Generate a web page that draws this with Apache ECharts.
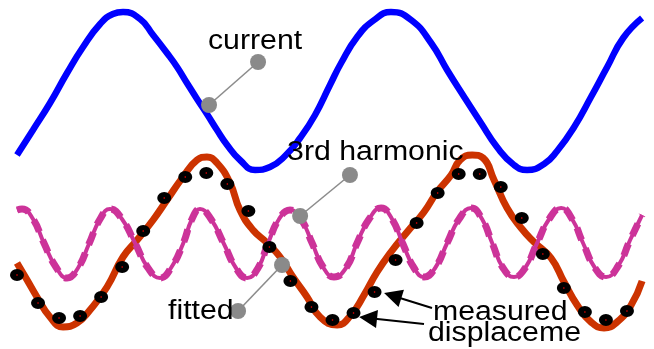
<!DOCTYPE html>
<html>
<head>
<meta charset="utf-8">
<script src="https://cdn.jsdelivr.net/npm/echarts@6/dist/echarts.min.js"></script>
<style>
  html, body { margin: 0; padding: 0; background: #fff; }
  #main { width: 654px; height: 349px; }
</style>
</head>
<body>
<div id="main"></div>
<script>
// x: sample index of the displacement record, y: trace amplitude (each trace on its own offset)
const currentWave = [
  [0, 19.4], [0.76, 21.9], [1.57, 24.6], [2.38, 27.6], [3.14, 30.2], [3.95, 32.5], [4.56, 33.5],
  [5.04, 33.7], [5.85, 33.0], [6.47, 31.4], [7.13, 29.6], [7.61, 28.2], [8.08, 26.6], [8.56, 25.0],
  [9.03, 23.5], [9.51, 21.9], [9.99, 20.4], [10.6, 18.9], [11.32, 17.9], [12.03, 18.2], [12.74, 19.3],
  [13.46, 21.1], [14.17, 23.4], [14.88, 26.4], [15.41, 28.6], [16.17, 31.2], [16.98, 32.9], [17.78, 33.7],
  [18.74, 32.9], [19.69, 30.6], [20.45, 27.9], [21.26, 25.2], [22.06, 22.6], [22.82, 20.2], [23.63, 18.4],
  [24.25, 17.9], [25.06, 18.5], [25.68, 19.8], [26.49, 22.2], [27.29, 25.2], [28.06, 28.2], [28.82, 31.1],
  [29.72, 33.1]
];

const fittedWave = [
  [0, 8.6], [0.48, 6.9], [0.95, 5.2], [1.57, 3.2], [2.19, 2.2], [2.85, 2.6], [3.47, 3.9], [4.28, 6.2],
  [5.04, 9.2], [5.71, 10.9], [6.47, 12.9], [7.13, 14.9], [7.89, 17.2], [8.56, 18.9], [9.03, 19.2],
  [9.51, 18.6], [10.13, 16.6], [10.6, 13.9], [11.22, 11.9], [11.89, 10.6], [12.51, 9.2], [13.12, 7.2],
  [13.79, 5.2], [14.41, 3.2], [15.22, 2.4], [15.88, 3.4], [16.5, 5.4], [17.12, 7.7], [17.78, 9.7],
  [18.55, 11.7], [19.35, 13.7], [19.97, 15.7], [20.64, 17.4], [21.07, 18.9], [21.64, 19.4], [22.16, 19.1],
  [22.68, 16.9], [23.3, 14.1], [23.97, 12.1], [24.58, 10.7], [25.39, 9.1], [26.01, 6.7], [26.63, 4.4],
  [27.29, 2.7], [27.91, 2.1], [28.53, 2.7], [29.2, 4.4], [29.72, 6.8]
];

const harmonicWave = [
  [0, 13.9], [0.24, 14.0], [0.76, 13.0], [1.28, 10.6], [1.85, 8.2], [2.38, 7.1], [2.9, 8.1], [3.42, 10.5],
  [3.95, 13.0], [4.42, 14.0], [4.99, 13.0], [5.61, 10.6], [6.23, 8.1], [6.8, 7.1], [7.32, 8.1], [7.89, 10.5],
  [8.32, 13.0], [8.7, 14.0], [9.22, 13.0], [9.84, 10.5], [10.41, 8.1], [10.94, 7.1], [11.46, 8.1],
  [11.94, 10.6], [12.46, 13.0], [12.98, 13.9], [13.5, 13.0], [14.03, 10.6], [14.55, 8.2], [15.07, 7.2],
  [15.64, 8.1], [16.17, 10.6], [16.74, 13.0], [17.31, 14.1], [17.83, 13.0], [18.35, 10.5], [18.88, 8.1],
  [19.35, 7.2], [19.88, 8.1], [20.45, 10.6], [21.02, 13.0], [21.59, 14.1], [22.11, 13.0], [22.59, 10.6],
  [23.11, 8.1], [23.63, 7.2], [24.16, 8.1], [24.73, 10.6], [25.3, 13.0], [25.87, 14.1], [26.39, 13.0],
  [26.91, 10.6], [27.48, 8.1], [28.01, 7.2], [28.58, 8.3], [29.15, 10.9], [29.72, 13.4]
];

// measured displacement, one value per sample index
const measured = [
  7.4, 4.6, 3.1, 3.3, 5.2, 8.2, 11.8, 15.1, 17.2, 17.6, 16.5, 13.8, 10.2, 6.8, 4.2,
  2.9, 3.6, 5.7, 8.9, 12.6, 15.6, 17.5, 17.5, 16.2, 13.1, 9.5, 6.1, 3.7, 2.9, 3.8
];

// annotation leaders: [point on trace, point near caption]
const leaders = [
  [[9.13, 24.4], [11.46, 28.7]],
  [[13.46, 13.3], [15.83, 17.4]],
  [[12.60, 8.4], [10.51, 3.8]]
];

// arrows from the caption to two measured samples: [tail, head]
const arrows = [
  [[19.73, 4.1], [17.86, 5.33]],
  [[19.35, 2.5], [16.69, 3.1]]
];

// captions, anchored at the left end of their baseline
const captions = [
  { text: 'current', at: [9.08, 29.8] },
  { text: '3rd harmonic', at: [12.84, 18.7] },
  { text: 'fitted', at: [7.18, 2.8] },
  { text: 'measured', at: [19.78, 2.7] },
  { text: 'displaceme', at: [19.54, 0.6] }
];

const chart = echarts.init(document.getElementById('main'), null, { renderer: 'canvas' });

const leaderDots = [];
leaders.forEach(l => { leaderDots.push(l[0], l[1]); });

chart.setOption({
  animation: false,
  backgroundColor: '#fff',
  grid: { left: 17, right: 6, top: 9, bottom: 0 },
  xAxis: { type: 'value', min: 0, max: 30, show: false },
  yAxis: { type: 'value', min: 0, max: 34, show: false },
  series: [
    {
      name: 'current', type: 'line', data: currentWave, smooth: 0.5, showSymbol: false, clip: false,
      lineStyle: { color: '#0000ff', width: 6.5 }, z: 2
    },
    {
      name: 'fitted', type: 'line', data: fittedWave, smooth: 0.5, showSymbol: false, clip: false,
      lineStyle: { color: '#cc3300', width: 7 }, z: 3
    },
    {
      name: '3rd harmonic', type: 'line', data: harmonicWave, smooth: 0.5, showSymbol: false, clip: false,
      lineStyle: { color: '#cc3399', width: 4 }, z: 4
    },
    {
      name: '3rd harmonic dashes', type: 'line', data: harmonicWave, smooth: 0.5, showSymbol: false, clip: false,
      lineStyle: { color: '#cc3399', width: 7, type: [13, 9], cap: 'butt' }, z: 4
    },
    {
      name: 'measured', type: 'scatter', data: measured.map((v, i) => [i, v]),
      symbol: 'circle', symbolSize: [14, 12], itemStyle: { color: '#000', opacity: 1 }, z: 5
    },
    {
      name: 'measured centre', type: 'scatter', data: measured.map((v, i) => [i, v]),
      symbol: 'circle', symbolSize: 1.6, itemStyle: { color: '#ff0000', opacity: 1 }, z: 6
    },
    {
      name: 'leaders', type: 'lines', coordinateSystem: 'cartesian2d',
      data: leaders.map(l => ({ coords: l })),
      symbol: ['none', 'none'],
      lineStyle: { color: '#8c8c8c', width: 1.6, opacity: 1 }, z: 7
    },
    {
      name: 'leader dots', type: 'scatter', data: leaderDots,
      symbol: 'circle', symbolSize: 16, itemStyle: { color: '#8a8a8a', opacity: 1 }, z: 8
    },
    {
      name: 'arrows', type: 'lines', coordinateSystem: 'cartesian2d',
      data: arrows.map(a => ({ coords: a })),
      symbol: ['none', 'triangle'], symbolSize: [15, 18],
      lineStyle: { color: '#000', width: 2, opacity: 1 }, z: 8
    }
  ]
});

const FONT = 27;
chart.setOption({
  graphic: captions.map(c => {
    const p = chart.convertToPixel({ gridIndex: 0 }, c.at);
    return {
      type: 'text', x: p[0], y: p[1] - FONT * 0.35, scaleX: 1.12, z: 100,
      style: {
        text: c.text, fill: '#000', align: 'left', verticalAlign: 'middle',
        font: FONT + 'px "Liberation Sans", Arial, sans-serif'
      }
    };
  })
});
</script>
</body>
</html>
